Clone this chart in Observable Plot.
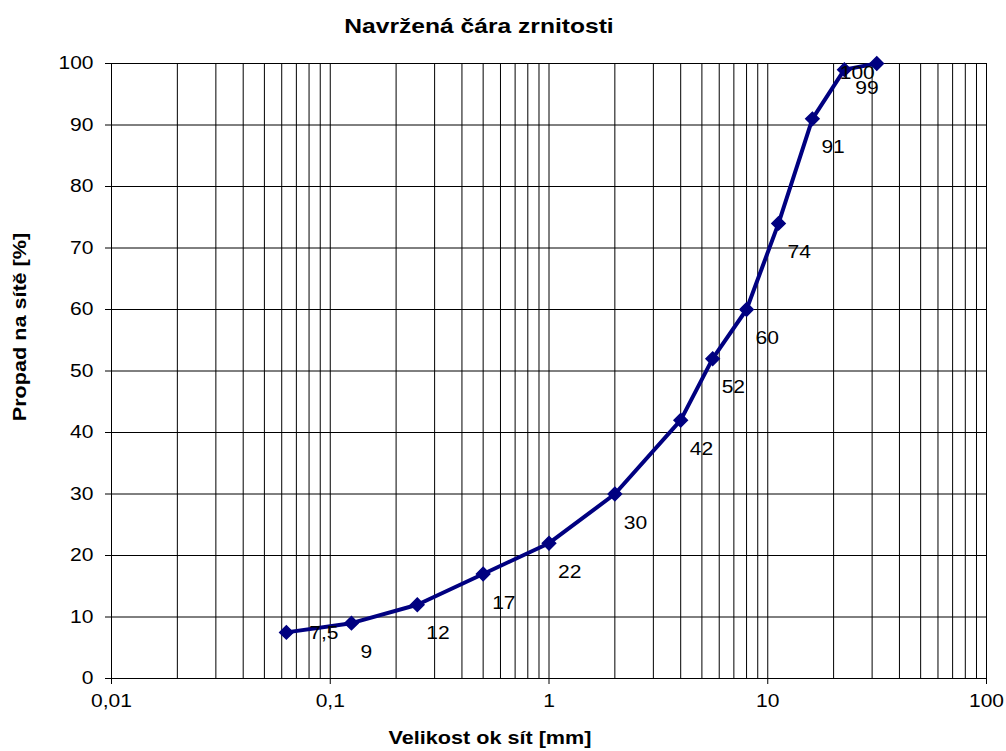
<!DOCTYPE html>
<html><head><meta charset="utf-8">
<script src="https://cdn.jsdelivr.net/npm/d3@7"></script>
<script src="https://cdn.jsdelivr.net/npm/@observablehq/plot@0.6"></script>
<style>body{margin:0;background:#fff;font-family:"Liberation Sans",Arial,sans-serif}</style>
</head><body><div id="chart"></div>
<script>
const sieveSizes = [0.063, 0.125, 0.25, 0.5, 1, 2, 4, 5.6, 8, 11.2, 16, 22.4, 31.5];
const passing = [7.5, 9, 12, 17, 22, 30, 42, 52, 60, 74, 91, 99, 100];
const xTicks = [0.01, 0.1, 1, 10, 100];
const yTicks = [0, 10, 20, 30, 40, 50, 60, 70, 80, 90, 100];
const titleText = "Navržená čára zrnitosti";
const xLabel = "Velikost ok sít [mm]";
const yLabel = "Propad na sítě [%]";

const fmt = v => String(v).replace(".", ",");
const data = sieveSizes.map((x, i) => ({x, y: passing[i], label: fmt(passing[i]), i}));

const xGrid = [];
for (let e = -2; e < 2; e++) for (let m = 1; m < 10; m++) xGrid.push(m * Math.pow(10, e));
xGrid.push(100);

const normal = data.filter(d => d.i !== 0 && d.i !== 11 && d.i !== 12);
const lbl = {x: "x", y: "y", text: "label", textAnchor: "start", fontSize: 17.5, fill: "#000"};
const ttl = {textAnchor: "middle", lineAnchor: "middle", fontWeight: "bold", fill: "#000"};

const chart = Plot.plot({
  width: 1006,
  height: 751,
  marginTop: 63,
  marginLeft: 111,
  marginRight: 20,
  marginBottom: 73,
  style: {fontFamily: '"Liberation Sans", Arial, sans-serif', fontSize: "17.5px", color: "#000", background: "#fff"},
  x: {type: "log", domain: [0.01, 100]},
  y: {domain: [0, 100]},
  marks: [
    Plot.ruleX(xGrid, {stroke: "#000", strokeWidth: 1}),
    Plot.ruleY(yTicks, {stroke: "#000", strokeWidth: 1}),
    Plot.axisX({ticks: xTicks, tickFormat: fmt, tickSize: 6, tickPadding: 10, fontSize: 17.5, label: null, stroke: "#000"}),
    Plot.axisY({ticks: yTicks, tickSize: 6, tickPadding: 12, fontSize: 17.5, label: null, stroke: "#000"}),
    Plot.line(data, {x: "x", y: "y", stroke: "#000080", strokeWidth: 4}),
    Plot.dot(data, {x: "x", y: "y", symbol: "diamond2", r: 6, fill: "#000080", stroke: "#000080"}),
    Plot.text(normal, {...lbl, dx: 9, dy: 29}),
    Plot.text(data.filter(d => d.i === 0), {...lbl, dx: 23, dy: 1}),
    Plot.text(data.filter(d => d.i === 11), {...lbl, dx: 11, dy: 19}),
    Plot.text(data.filter(d => d.i === 12), {...lbl, dx: -37, dy: 10}),
    Plot.text([titleText], {...ttl, frameAnchor: "top", dy: -37, dx: -70, fontSize: 20.5}),
    Plot.text([xLabel], {...ttl, frameAnchor: "bottom", dy: 60, dx: -59, fontSize: 18}),
    Plot.text([yLabel], {...ttl, frameAnchor: "left", dx: -91, dy: -44, rotate: -90, fontSize: 18})
  ]
});
document.getElementById("chart").appendChild(chart);
// the reference's glyphs are rendered wider than Arial: widen each text horizontally
const stretch = 1.2;
chart.querySelectorAll("text").forEach(t => {
  const len = t.getComputedTextLength();
  if (len > 0) {
    t.setAttribute("textLength", (len * stretch).toFixed(1));
    t.setAttribute("lengthAdjust", "spacingAndGlyphs");
  }
});
</script>
</body></html>
